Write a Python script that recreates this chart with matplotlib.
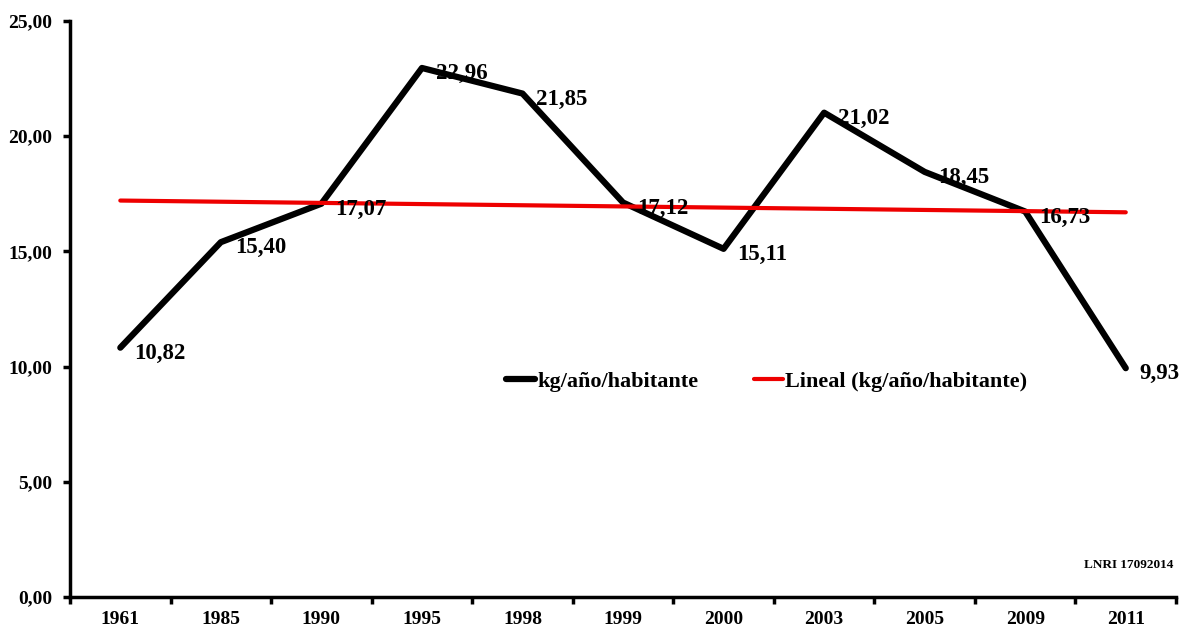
import numpy as np
import matplotlib.pyplot as plt

years = ["1961", "1985", "1990", "1995", "1998", "1999", "2000", "2003", "2005", "2009", "2011"]
kg_hab = [10.82, 15.40, 17.07, 22.96, 21.85, 17.12, 15.11, 21.02, 18.45, 16.73, 9.93]
y_ticks = [0, 5, 10, 15, 20, 25]

plt.rcParams["font.family"] = ["Liberation Serif", "DejaVu Serif"]
plt.rcParams["font.weight"] = "bold"

fig = plt.figure(figsize=(11.81, 6.28), dpi=100)
ax = fig.add_axes([0.0593, 0.0494, 0.9365, 0.9172])

x = np.arange(len(years))
ax.plot(x, kg_hab, color="black", lw=4.5, solid_capstyle="round", label="kg/año/habitante", zorder=3)

# linear trend like excel
m, b = np.polyfit(x, kg_hab, 1)
ax.plot(x, m * x + b, color="#ee0000", lw=3, solid_capstyle="round",
        label="Lineal (kg/año/habitante)", zorder=4)

for xi, v in zip(x, kg_hab):
    ax.annotate(f"{v:.2f}".replace(".", ","), (xi, v), xytext=(10, -4),
                textcoords="offset points", ha="left", va="center",
                fontsize=16.5, fontweight="bold", zorder=5)

ax.set_xlim(-0.5, len(years) - 0.5)
ax.set_ylim(0, 25)
ax.set_yticks(y_ticks)
ax.set_yticklabels([f"{t:.2f}".replace(".", ",") for t in y_ticks])
ax.set_xticks(x)
ax.set_xticklabels(years)
ax.set_xticks(np.arange(-0.5, len(years)), minor=True)
ax.tick_params(axis="x", which="major", length=0, pad=10, labelsize=14)
ax.tick_params(axis="x", which="minor", length=5, width=2.5, direction="out")
ax.tick_params(axis="y", length=5, width=2.5, labelsize=14, pad=8)

ax.spines["top"].set_visible(False)
ax.spines["right"].set_visible(False)
ax.spines["left"].set_linewidth(2.5)
ax.spines["bottom"].set_linewidth(2.5)

leg = ax.legend(loc="center", bbox_to_anchor=(0.63, 0.374), ncol=2, frameon=False,
                handlelength=1.3, handletextpad=0.1, columnspacing=2.5,
                prop={"size": 16, "weight": "bold"})

ax.text(0.998, 0.055, "LNRI 17092014", transform=ax.transAxes, ha="right", va="center",
        fontsize=9.5, fontweight="bold")

fig.savefig("out.png", dpi=100)
